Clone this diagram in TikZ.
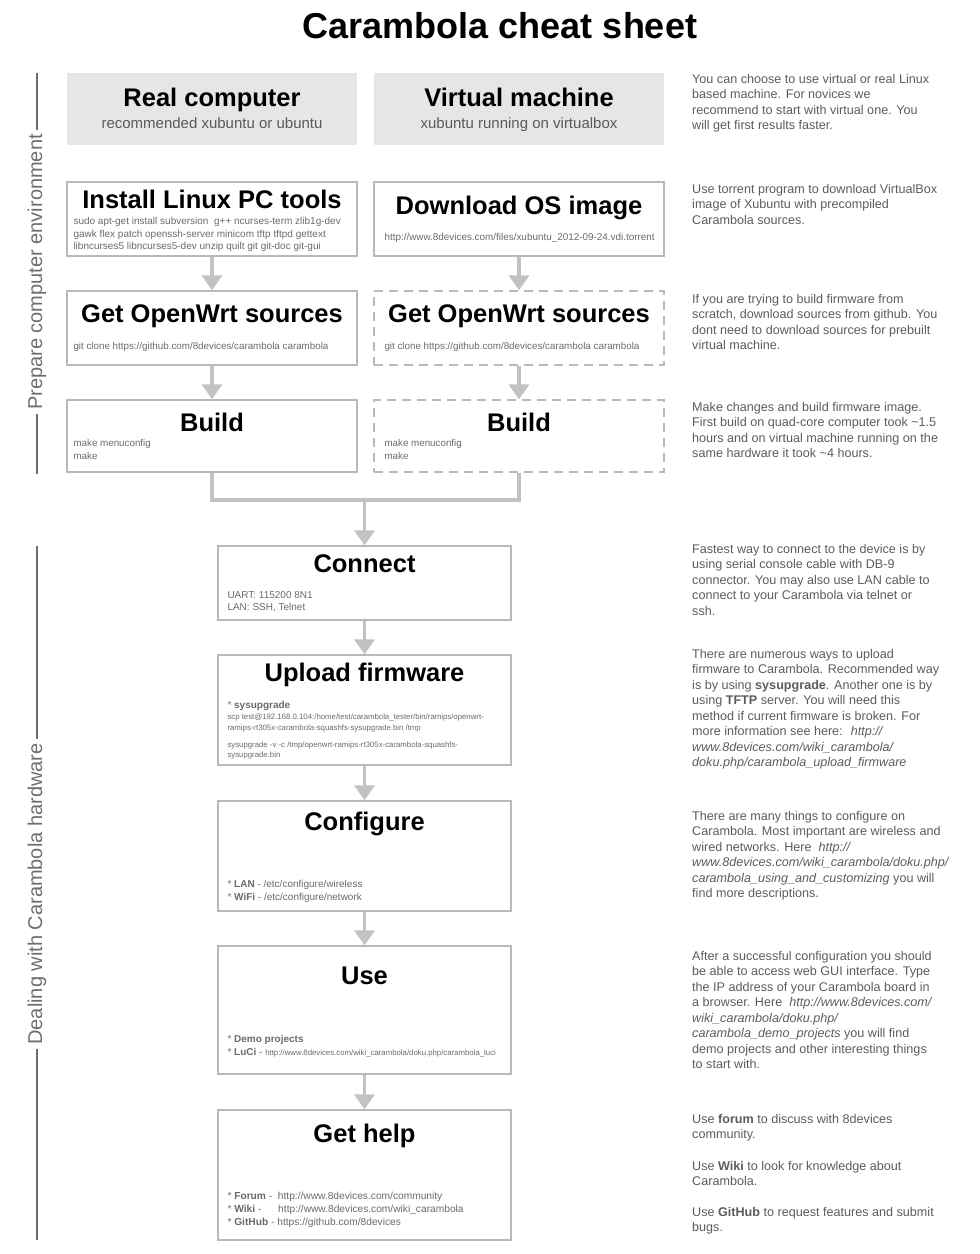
\documentclass[tikz,border=0pt]{standalone}
\usepackage{fontspec}
\setmainfont{Liberation Sans}
\usetikzlibrary{arrows.meta}
\definecolor{framegray}{HTML}{B9B9B9}
\definecolor{headgray}{HTML}{E6E6E6}
\definecolor{arrgray}{HTML}{C2C2C2}
\definecolor{subgray}{HTML}{5A5A5A}
\definecolor{infogray}{HTML}{6A6A6A}
\definecolor{notegray}{HTML}{5C5C5C}
\definecolor{sidegray}{HTML}{6E6E6E}

\begin{document}
\begin{tikzpicture}[x=1pt, y=-1pt,
    % cadres
    frame/.style={draw=framegray, line width=1.4pt, minimum width=290pt, inner sep=0pt},
    dashframe/.style={frame, dash pattern=on 9pt off 6pt},
    headbox/.style={fill=headgray, minimum width=290pt, minimum height=72pt, inner sep=0pt},
    % textes
    ttl/.style={font=\fontsize{25.5}{30}\selectfont\bfseries, inner sep=0pt, anchor=base},
    sub/.style={font=\fontsize{15}{18}\selectfont, text=subgray, inner sep=0pt, anchor=base},
    info/.style={font=\fontsize{9.8}{12.4}\selectfont, text=infogray, align=left, inner sep=0pt, anchor=north west},
    note/.style={font=\fontsize{12.6}{15.45}\selectfont, text=notegray, align=left, inner sep=0pt, anchor=north west},
    side/.style={rotate=90, font=\fontsize{20}{22}\selectfont, text=sidegray, inner sep=4pt},
    % liens
    flow/.style={line width=3.5pt, draw=arrgray, -{Triangle[width=20pt, length=15pt]}},
    link/.style={line width=3.5pt, draw=arrgray, line join=miter},
    bracket/.style={draw=sidegray, line width=1.6pt},
]

\useasboundingbox (0,0) rectangle (980,1254);

\node[font=\fontsize{36}{40}\selectfont\bfseries, inner sep=0pt] (title) at (500,26) {Carambola cheat sheet};

%% -- Préparer l'environnement --
\node[headbox] (real) at (212,109) {};
\node[headbox] (virt) at (519,109) {};
\node[frame, minimum height=74pt] (inst) at (212,219) {};
\node[frame, minimum height=74pt] (down) at (519,219) {};
\node[frame, minimum height=74pt] (src1) at (212,328) {};
\node[dashframe, minimum height=74pt] (src2) at (519,328) {};
\node[frame, minimum height=72pt] (bld1) at (212,436) {};
\node[dashframe, minimum height=72pt] (bld2) at (519,436) {};

\node[ttl] at ([yshift=-34pt]real.north) {Real computer};
\node[sub] at ([yshift=-56pt]real.north) {recommended xubuntu or ubuntu};
\node[ttl] at ([yshift=-34pt]virt.north) {Virtual machine};
\node[sub] at ([yshift=-56pt]virt.north) {xubuntu running on virtualbox};

\node[ttl] at ([yshift=-27pt]inst.north) {Install Linux PC tools};
\node[info, font=\fontsize{10}{12.4}\selectfont] at ([xshift=7pt, yshift=-36pt]inst.north west)
  {sudo apt-get install subversion \ g++ ncurses-term zlib1g-dev\\
   gawk flex patch openssh-server minicom tftp tftpd gettext\\
   libncurses5 libncurses5-dev unzip quilt git git-doc git-gui};
\node[ttl] at ([yshift=-33pt]down.north) {Download OS image};
\node[info, font=\fontsize{9.9}{12}\selectfont] at ([xshift=11pt, yshift=-52pt]down.north west)
  {http://www.8devices.com/files/xubuntu\_2012-09-24.vdi.torrent};

\node[ttl] at ([yshift=-32pt]src1.north) {Get OpenWrt sources};
\node[info] at ([xshift=7pt, yshift=-52pt]src1.north west)
  {git clone https://github.com/8devices/carambola carambola};
\node[ttl] at ([yshift=-32pt]src2.north) {Get OpenWrt sources};
\node[info] at ([xshift=11pt, yshift=-52pt]src2.north west)
  {git clone https://github.com/8devices/carambola carambola};

\node[ttl] at ([yshift=-32pt]bld1.north) {Build};
\node[info] at ([xshift=7pt, yshift=-40pt]bld1.north west) {make menuconfig\\make};
\node[ttl] at ([yshift=-32pt]bld2.north) {Build};
\node[info] at ([xshift=11pt, yshift=-40pt]bld2.north west) {make menuconfig\\make};

%% -- Matériel Carambola --
\node[frame, minimum width=293pt, minimum height=74pt] (conn) at (364.5,583) {};
\node[frame, minimum width=293pt, minimum height=110pt] (upl) at (364.5,710) {};
\node[frame, minimum width=293pt, minimum height=110pt] (conf) at (364.5,856) {};
\node[frame, minimum width=293pt, minimum height=128pt] (use) at (364.5,1010) {};
\node[frame, minimum width=293pt, minimum height=130pt] (help) at (364.5,1175) {};

\node[ttl] at ([yshift=-27pt]conn.north) {Connect};
\node[info, font=\fontsize{10}{12.4}\selectfont] at ([xshift=10pt, yshift=-46pt]conn.north west)
  {UART: 115200 8N1\\LAN: SSH, Telnet};

\node[ttl] at ([yshift=-27pt]upl.north) {Upload firmware};
\node[info, font=\fontsize{7.8}{10.8}\selectfont] at ([xshift=10pt, yshift=-47pt]upl.north west)
  {{\fontsize{10}{12}\selectfont * \textbf{sysupgrade}}\\
   scp test@192.168.0.104:/home/test/carambola\_tester/bin/ramips/openwrt-\\
   ramips-rt305x-carambola-squashfs-sysupgrade.bin /tmp\\[6pt]
   sysupgrade -v -c /tmp/openwrt-ramips-rt305x-carambola-squashfs-\\
   sysupgrade.bin};

\node[ttl] at ([yshift=-30pt]conf.north) {Configure};
\node[info, font=\fontsize{10}{13}\selectfont] at ([xshift=10pt, yshift=-80pt]conf.north west)
  {* \textbf{LAN} - /etc/configure/wireless\\* \textbf{WiFi} - /etc/configure/network};

\node[ttl] at ([yshift=-39pt]use.north) {Use};
\node[info, font=\fontsize{10}{13}\selectfont] at ([xshift=10pt, yshift=-90pt]use.north west)
  {* \textbf{Demo projects}\\
   * \textbf{LuCi} - {\fontsize{7.8}{9}\selectfont http://www.8devices.com/wiki\_carambola/doku.php/carambola\_luci}};

\node[ttl] at ([yshift=-33pt]help.north) {Get help};
\node[info, font=\fontsize{10.2}{12.6}\selectfont] at ([xshift=10pt, yshift=-83pt]help.north west)
  {* \textbf{Forum} - \ http://www.8devices.com/community\\
   * \textbf{Wiki} - \hspace{14pt}http://www.8devices.com/wiki\_carambola\\
   * \textbf{GitHub} - https://github.com/8devices};

%% -- Flèches --
\draw[flow] (inst) -- (src1);
\draw[flow] (src1) -- (bld1);
\draw[flow] (down) -- (src2);
\draw[flow] (src2) -- (bld2);
\coordinate (merge) at (364.5,500);
\draw[link] (bld1.south) -- (bld1.south |- merge) -- (bld2.south |- merge) -- (bld2.south);
\draw[flow] (merge) -- (conn.north);
\draw[flow] (conn) -- (upl);
\draw[flow] (upl) -- (conf);
\draw[flow] (conf) -- (use);
\draw[flow] (use) -- (help);

%% -- Étiquettes latérales --
\node[side] (prep) at (37,272) {Prepare computer environment};
\coordinate (preptop) at (37,73);
\coordinate (prepbot) at (37,474);
\draw[bracket] (preptop) -- (prep.east);
\draw[bracket] (prep.west) -- (prepbot);
\node[side] (hw) at (37,894) {Dealing with Carambola hardware};
\coordinate (hwtop) at (37,546);
\coordinate (hwbot) at (37,1240);
\draw[bracket] (hwtop) -- (hw.east);
\draw[bracket] (hw.west) -- (hwbot);

%% -- Notes à droite --
\node[note] (n1) at (692,74) {You can choose to use virtual or real Linux\\based machine. For novices we\\recommend to start with virtual one. You\\will get first results faster.};
\node[note] (n2) at (692,184) {Use torrent program to download VirtualBox\\image of Xubuntu with precompiled\\Carambola sources.};
\node[note] (n3) at (692,294) {If you are trying to build firmware from\\scratch, download sources from github. You\\dont need to download sources for prebuilt\\virtual machine.};
\node[note] (n4) at (692,402) {Make changes and build firmware image.\\First build on quad-core computer took \textasciitilde1.5\\hours and on virtual machine running on the\\same hardware it took \textasciitilde4 hours.};
\node[note] (n5) at (692,544) {Fastest way to connect to the device is by\\using serial console cable with DB-9\\connector. You may also use LAN cable to\\connect to your Carambola via telnet or\\ssh.};
\node[note] (n6) at (692,649) {There are numerous ways to upload\\firmware to Carambola. Recommended way\\is by using \textbf{sysupgrade}. Another one is by\\using \textbf{TFTP} server. You will need this\\method if current firmware is broken. For\\more information see here: \ \textit{http://}\\\textit{www.8devices.com/wiki\_carambola/}\\\textit{doku.php/carambola\_upload\_firmware}};
\node[note] (n7) at (692,811) {There are many things to configure on\\Carambola. Most important are wireless and\\wired networks. Here \ \textit{http://}\\\textit{www.8devices.com/wiki\_carambola/doku.php/}\\\textit{carambola\_using\_and\_customizing} you will\\find more descriptions.};
\node[note] (n8) at (692,951) {After a successful configuration you should\\be able to access web GUI interface. Type\\the IP address of your Carambola board in\\a browser. Here \ \textit{http://www.8devices.com/}\\\textit{wiki\_carambola/doku.php/}\\\textit{carambola\_demo\_projects} you will find\\demo projects and other interesting things\\to start with.};
\node[note] (n9) at (692,1114) {Use \textbf{forum} to discuss with 8devices\\community.};
\node[note] (n10) at (692,1161) {Use \textbf{Wiki} to look for knowledge about\\Carambola.};
\node[note] (n11) at (692,1207) {Use \textbf{GitHub} to request features and submit\\bugs.};

\end{tikzpicture}
\end{document}
